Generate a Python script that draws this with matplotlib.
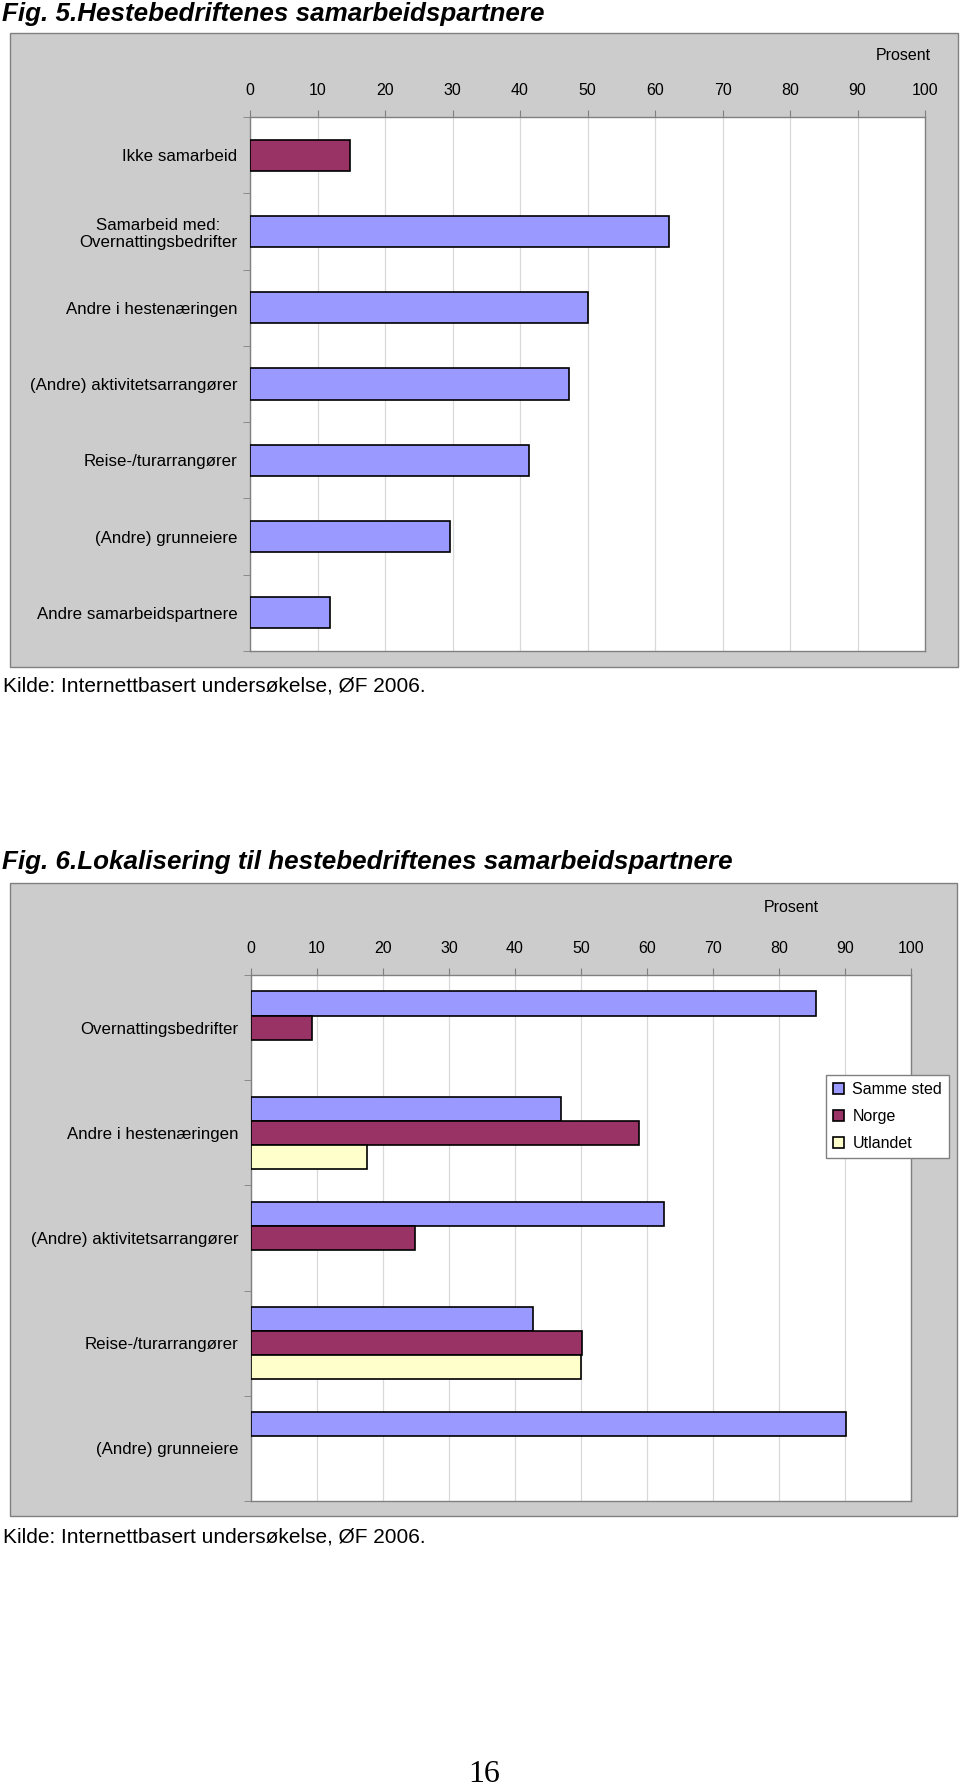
import numpy as np
import matplotlib
matplotlib.use("Agg")
import matplotlib.pyplot as plt
from matplotlib.patches import Rectangle

plt.rcParams["font.family"] = ["Liberation Sans", "DejaVu Sans"]

# ------------------------------------------------------------
# data
# ------------------------------------------------------------
fig5_categories = [
    "Ikke samarbeid",
    "Samarbeid med:\nOvernattingsbedrifter",
    "Andre i hestenæringen",
    "(Andre) aktivitetsarrangører",
    "Reise-/turarrangører",
    "(Andre) grunneiere",
    "Andre samarbeidspartnere",
]
fig5_values = [14.8, 62.0, 50.1, 47.3, 41.3, 29.6, 11.9]

fig6_categories = [
    "Overnattingsbedrifter",
    "Andre i hestenæringen",
    "(Andre) aktivitetsarrangører",
    "Reise-/turarrangører",
    "(Andre) grunneiere",
]
series_names = ["Samme sted", "Norge", "Utlandet"]
samme_sted = [85.6, 47.0, 62.6, 42.8, 90.1]
norge = [9.3, 58.8, 24.9, 50.1, np.nan]
utlandet = [np.nan, 17.6, np.nan, 50.0, np.nan]

x_ticks = list(range(0, 101, 10))

title5 = "Fig. 5.Hestebedriftenes samarbeidspartnere"
title6 = "Fig. 6.Lokalisering til hestebedriftenes samarbeidspartnere"
source = "Kilde: Internettbasert undersøkelse, ØF 2006."
page_no = "16"

# ------------------------------------------------------------
# styling
# ------------------------------------------------------------
BLUE = "#9999ff"
MAROON = "#993366"
CREAM = "#ffffcc"
PANEL = "#cccccc"
EDGE = "#808080"
GRID = "#d9d9d9"

W, H = 960, 1789
fig = plt.figure(figsize=(W / 100, H / 100), dpi=100)
fig.patch.set_facecolor("white")


def fx(x):
    return x / W


def fy(y):
    return 1 - y / H


def panel(left, top, right, bottom):
    r = Rectangle((fx(left), fy(bottom)), fx(right - left), (bottom - top) / H,
                  transform=fig.transFigure, facecolor=PANEL, edgecolor=EDGE,
                  linewidth=1, zorder=-5)
    fig.patches.append(r)


def px_axes(left, top, right, bottom):
    return fig.add_axes([fx(left), fy(bottom), fx(right - left), (bottom - top) / H])


def style_axes(ax, categories):
    n = len(categories)
    ax.set_xlim(0, 100)
    ax.set_ylim(n - 0.5, -0.5)
    ax.set_facecolor("white")
    ax.set_xticks(x_ticks)
    ax.xaxis.tick_top()
    ax.tick_params(axis="x", direction="out", length=5, color=EDGE,
                   labelsize=11.5, pad=9)
    ax.set_yticks(range(n))
    ax.set_yticklabels(categories)
    ax.set_yticks(np.arange(-0.5, n, 1.0), minor=True)
    ax.tick_params(axis="y", which="major", length=0, labelsize=12.2, pad=9)
    ax.tick_params(axis="y", which="minor", direction="out", length=5, color=EDGE)
    for lab in ax.get_yticklabels():
        lab.set_multialignment("center")
    ax.xaxis.grid(True, color=GRID, linewidth=0.9)
    ax.set_axisbelow(True)
    for s in ax.spines.values():
        s.set_color(EDGE)
        s.set_linewidth(1)


# ------------------------------------------------------------
# Fig. 5
# ------------------------------------------------------------
fig.text(fx(2), fy(14), title5, fontsize=18.7, fontweight="bold", style="italic",
         va="center", ha="left")
panel(10, 33, 958, 667)
ax5 = px_axes(250, 117, 925, 651)
colors5 = [MAROON] + [BLUE] * (len(fig5_values) - 1)
ax5.barh(range(len(fig5_values)), fig5_values, height=0.41, color=colors5,
         edgecolor="black", linewidth=1.2, zorder=3)
style_axes(ax5, fig5_categories)
fig.text(fx(903), fy(55), "Prosent", fontsize=11.5, ha="center", va="center")
fig.text(fx(3), fy(686), source, fontsize=15, ha="left", va="center")

# ------------------------------------------------------------
# Fig. 6
# ------------------------------------------------------------
fig.text(fx(2), fy(862), title6, fontsize=18.7, fontweight="bold", style="italic",
         va="center", ha="left")
panel(10, 883, 957, 1516)
ax6 = px_axes(251, 975, 911, 1501)
pos = np.arange(len(fig6_categories))
bh = 0.23
handles = []
for k, (vals, col) in enumerate(zip([samme_sted, norge, utlandet], [BLUE, MAROON, CREAM])):
    b = ax6.barh(pos + (k - 1) * bh, vals, height=bh, color=col,
                 edgecolor="black", linewidth=1.2, zorder=3, label=series_names[k])
    handles.append(b)
style_axes(ax6, fig6_categories)
fig.text(fx(791), fy(908), "Prosent", fontsize=11.5, ha="center", va="center")

leg = fig.legend(handles=handles, labels=series_names, loc="upper left",
                 bbox_to_anchor=(fx(826), fy(1075)), fontsize=11.5,
                 frameon=True, fancybox=False, framealpha=1, edgecolor=EDGE,
                 handlelength=0.7, handleheight=0.7, handletextpad=0.5,
                 labelspacing=0.75, borderpad=0.45, borderaxespad=0)
leg.get_frame().set_linewidth(1)
leg.set_zorder(10)

fig.text(fx(3), fy(1537), source, fontsize=15, ha="left", va="center")

# page number
fig.text(fx(484), fy(1775), page_no, fontsize=23, family="Liberation Serif",
         ha="center", va="center")

fig.savefig("out.png", dpi=100)
